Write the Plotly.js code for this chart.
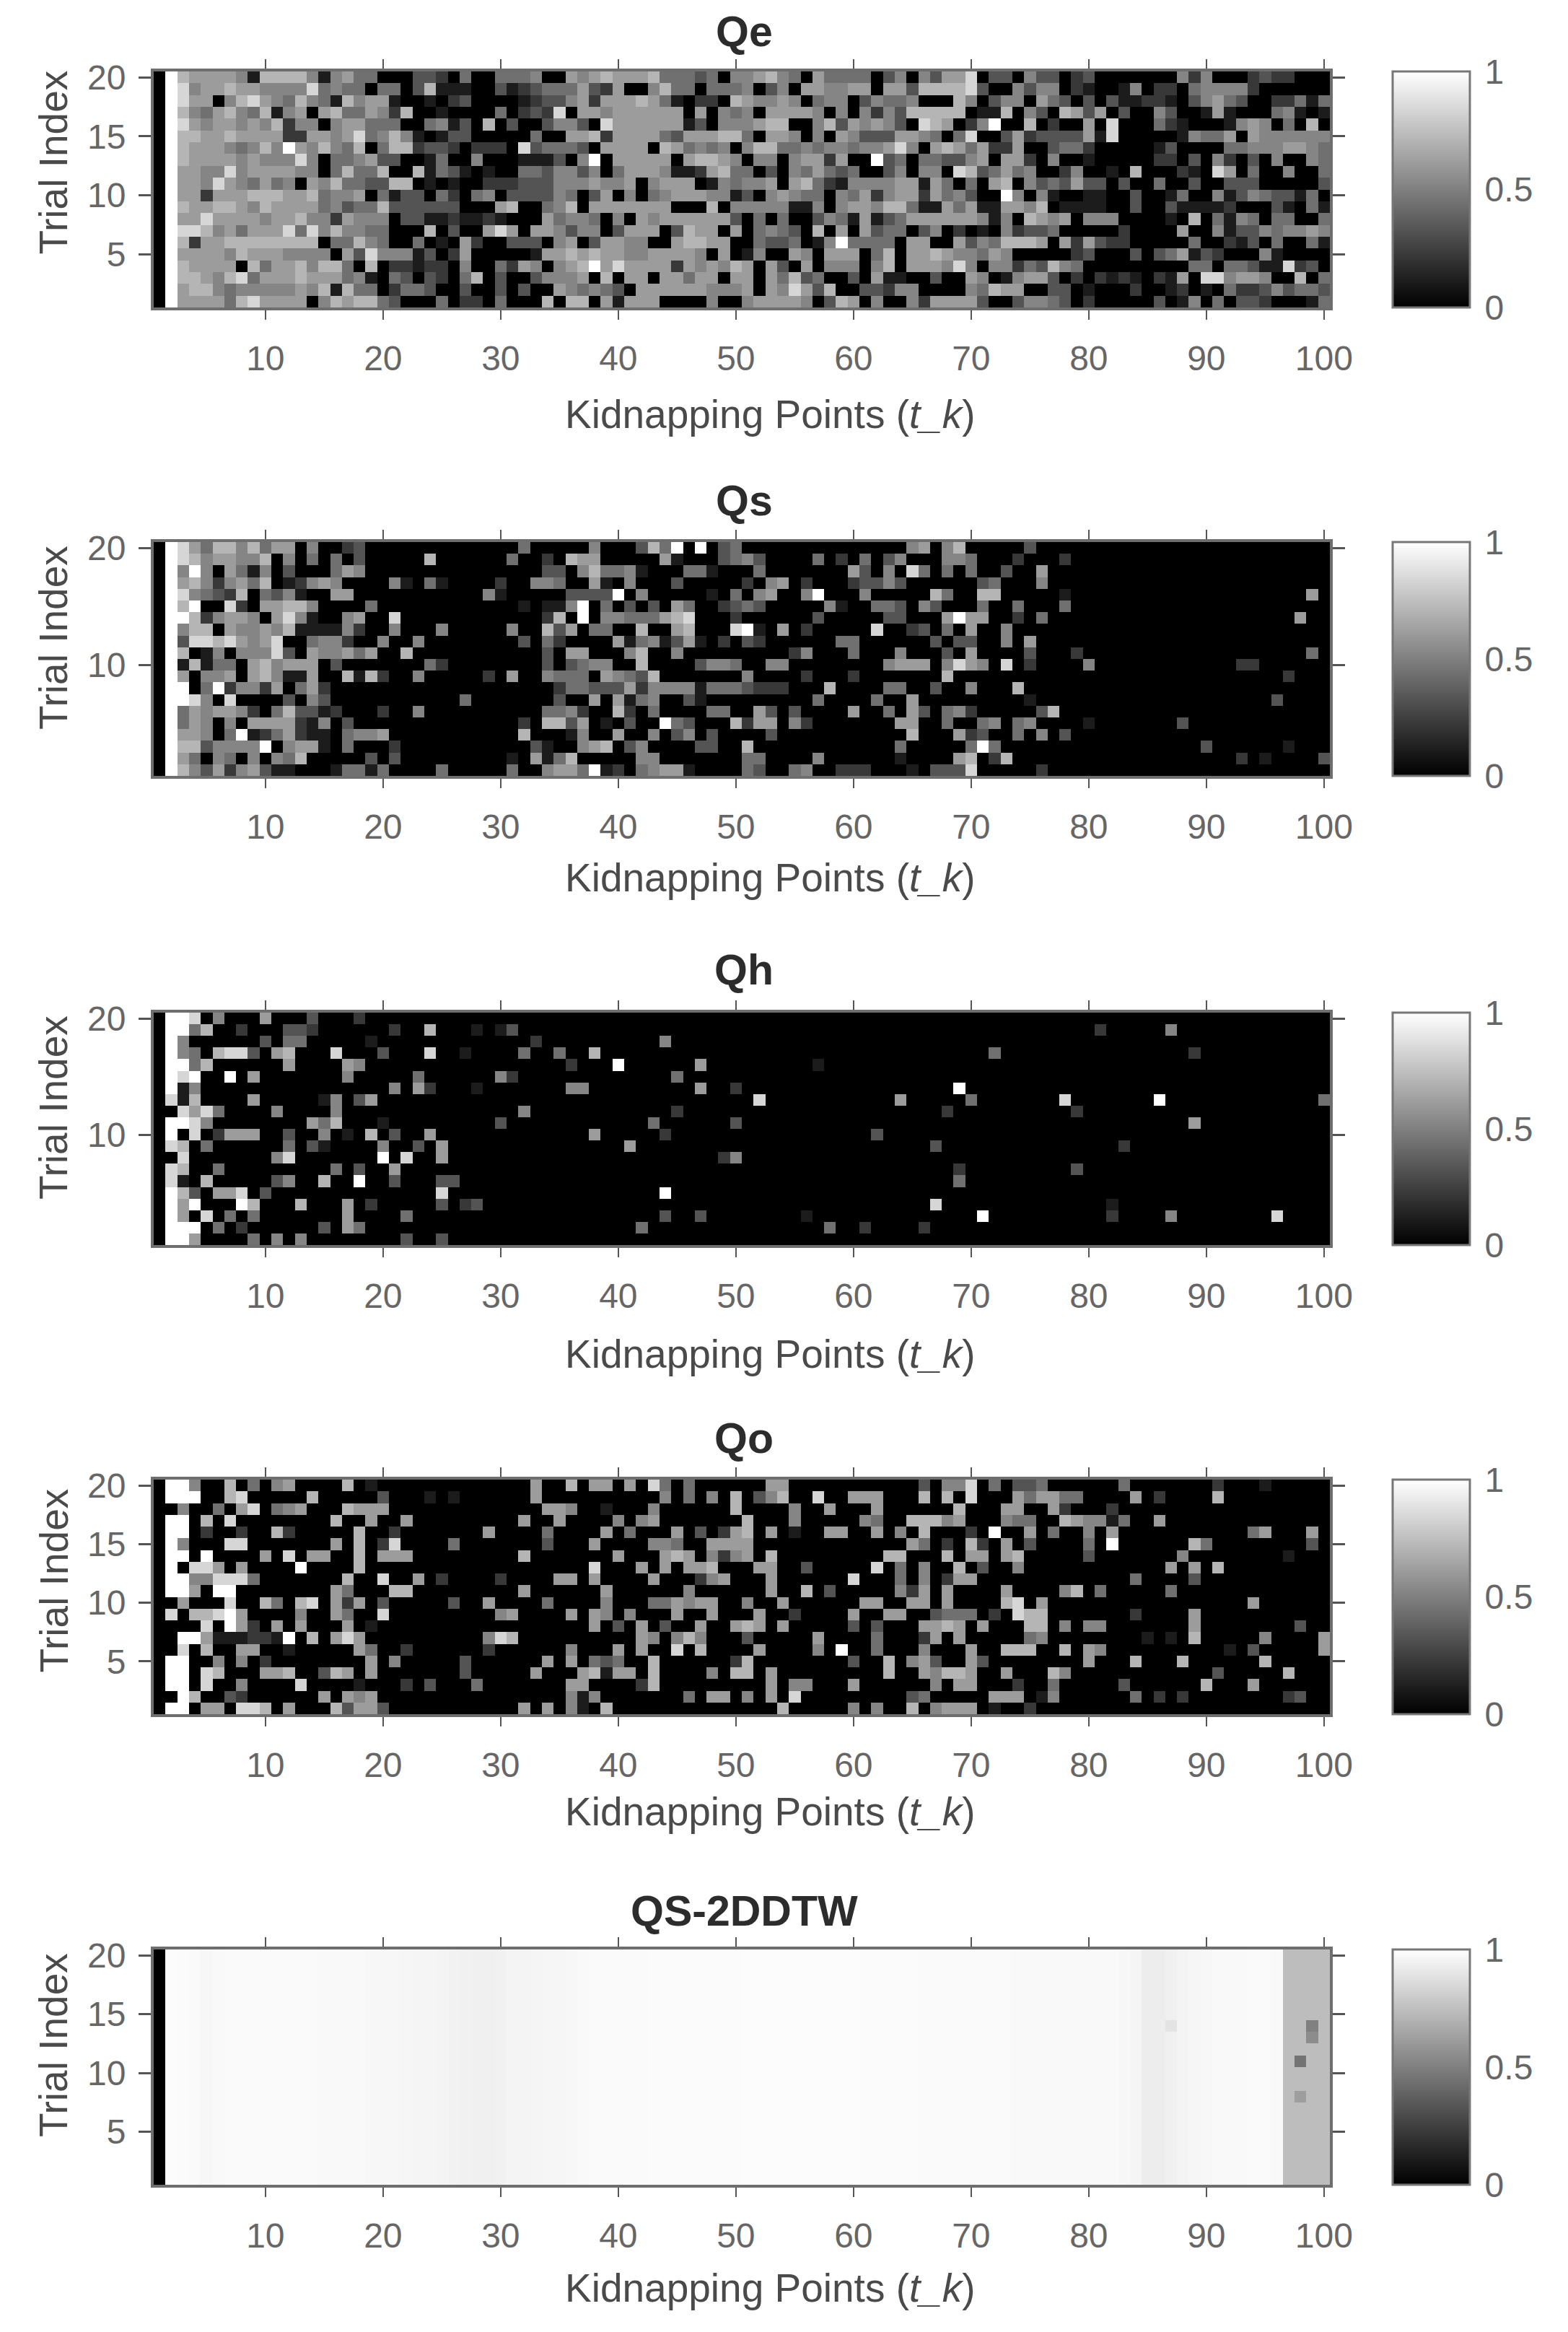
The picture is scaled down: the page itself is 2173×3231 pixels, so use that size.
<!DOCTYPE html>
<html><head><meta charset="utf-8">
<script src="https://cdn.plot.ly/plotly-3.0.1.min.js"></script>
<style>html,body{margin:0;padding:0;background:#fff}</style>
</head><body><div id="chart" style="width:2173px;height:3231px"></div>
<script>
// Grey levels: digit 0 (black) .. 9 (white), one string per trial,
// first string = trial 20, last = trial 1. "-" stands for ten black cells.
const Qe_rows = [
"0976666517 7775156440 0033204004 4450065676 6674443405 5675406444 4035053668 0330533023 0000000525 0002322000",
"0985667665 5558454404 4037111003 1234446326 0057440444 5035066556 6066377778 3005355021 0015022045 5552000000",
"0986605786 5475417566 1001023000 0123356266 6764102207 6556504550 3544500075 0355064303 0311221035 6430022414",
"0975467547 1560674465 2700100004 0232806656 6666606054 5066665050 5253777770 1170530763 6030053001 6100045101",
"0986566565 7255056644 4004513070 3003553086 6666613055 5677005736 5653087602 5900702006 0800042100 0156504070",
"0977667666 6226656845 7510133000 0040066726 6664366677 4066505065 3336654048 0036233336 1800000154 4606555555",
"0976665457 5965754704 7723320222 0834443066 6607645450 5774454554 5568506764 6226003442 0000013000 0445556654",
"0976666565 5585044563 3001400500 0111305906 6666067765 0550566260 0934044335 6066205001 0000022030 5203050054",
"0966558566 6655047447 0071431010 0443553504 6665112674 4030546434 0035055087 3464500250 0107000210 8604005004",
"0966586546 4506574433 7701010022 2333555655 6056660154 5560674215 5556616404 0670534363 3030040030 0333000003",
"0966266677 7667455604 1330420450 3333540360 5045666551 3056544054 6256626453 0095051001 1003001400 5135433140",
"0976677657 6666453447 3333330006 7004570666 6666000705 5555115056 6577411646 1166570111 1003003111 1200031041",
"0966866665 6675526555 0331121121 0006455405 0656666663 0404003541 6134666666 5150765605 5500001070 4154044004",
"0988756466 6848575544 0007030068 6066535503 6660376606 0454307060 6344035020 1052334000 0020000600 5133545565",
"0972667777 7777044754 0040106200 3330560366 5500677660 0433401594 4440660063 5477760626 3220000040 0213040041",
"0966665766 6555506385 5513026000 0016676766 5566665060 1500650666 0470667655 4650000023 0003034613 2000510000",
"0976666074 6675774070 2212205004 2650567968 6666265657 6063060555 0570666585 0552437540 0000000044 0443118230",
"0977657846 6676664510 4303204703 0035556070 6606646606 6064734003 0611003006 5015663020 2121021608 8566500704",
"0967754555 5565717440 2443003003 0300654543 0666666555 6065863700 3325500005 4766003301 0002001201 0422353443",
"0966664786 6660576774 3000402204 0007077061 6660000500 5666650376 0500526666 3003554302 0000030150 4033200014"
];
const Qs_rows = [
"0986477574 6605002300 - 0400000500 0374909034 - 0000560570 0000300000 - -",
"0987566557 0504040300 0007000000 4002076600 0006100034 5300004020 4035000554 0002000200 - -",
"0959506415 0300046500 - 0003305744 5100044100 0400000006 3050840404 0030060000 - -",
"0967525647 0125650000 5104100002 0055400610 5000300000 2056020002 3353000000 3400050000 - -",
"0985432704 3510066000 0000000051 0000033339 0500000104 0560059000 5000007400 7700000100 - 0000000060",
"0979008206 6775000040 - 0101159040 3030640023 4300000510 0443053000 4004000400 - -",
"0997256650 6851005600 8000000000 0002709055 4446780002 0000003000 0033000696 6002040000 - 0000000600",
"0957706556 5711115200 5000500000 5007360440 0700670008 9106020000 0800230406 0050000000 - -",
"0938878656 8004552005 0050000000 0304200006 1451361020 3200000044 0000003033 0050600000 - -",
"0970150555 8306556460 0700000000 0003066000 5700500000 0000250004 0005000306 0000300020 - 0000000040",
"0917144067 5666030000 0004200000 0003034550 0700003554 0055000000 0056660586 5080200005 - 0022000000",
"0960556067 5116007172 0050000020 6005444065 4370000000 5000020002 0000000700 - - 0000002000",
"0990492552 6046200000 - 0000244333 6255551444 3222000700 0044003005 0007000000 - -",
"0998508000 0305300000 0000004000 0000300606 1450031000 0000004000 0400600000 0000100000 - 0000030000",
"0946566520 4733120002 0050000000 0004452007 2040000440 0630300006 0040630452 0000037000 - -",
"0946505066 6621503000 - 0207736010 3009430007 2660520000 0006600400 4504500001 0000000300 -",
"0966504912 4621104556 - 0700015006 0050350300 0030000000 0000700062 3004050300 - -",
"0977355559 0566104000 2000000000 0031005670 3500003300 7000000000 0004000004 9400000000 0000000003 0000001000",
"0964054050 5470000030 3000000000 1061470000 0550000000 4400005000 0001000067 0270000000 - 0020100003",
"0975362563 1100014414 0000400000 4005664912 0456610000 4300450022 2000103338 0000020000 - -"
];
const Qh_rows = [
"0998050006 0003000200 - - - - - - - -",
"0994700200 0332000000 2007000101 3000000000 - - - - 2000005000 -",
"0950000003 0440000010 - 0020000000 0005000000 - - - - -",
"0954078830 6700080003 0008001000 0400400700 - - - 0400000000 0000000020 -",
"0994700000 0600006500 - 0000020009 0000006000 0000001000 - - - -",
"0989009060 0000005000 0040000005 2000000000 0000400000 - - - - -",
"0915000000 - 5062000100 0000055000 0000006002 - 0000000090 - - -",
"0817000060 0000150360 - - - 0800000000 0006000004 0000000800 0000090000 0000000004",
"0086840000 5000050000 - 0500000000 0000200000 - 0000000200 0000000020 - -",
"0998500000 0006470001 0000000003 - 0040000003 - - - 0000000060 -",
"0908026660 0300501070 3006000000 0000000600 0002000000 - 0300000000 - - -",
"0870400000 0403100005 0030600000 - 6000000000 - 0000003000 - 0020000000 -",
"0080000000 5800000009 0800600000 - 0000000025 - - - - -",
"0870040000 0000040300 6000000000 - - - 0000000020 0000000030 - -",
"0810700000 3500700900 3000330000 - - - 0000000040 - - -",
"0973066803 - 0000800000 - 0009000000 - - - - -",
"0969000970 0070006020 0000302300 - - - 0000008000 - 0100000000 -",
"0960804040 0000006000 0400000000 - 0003003000 0000010000 - 9000000000 0200005000 0000080000",
"0999040200 0000306400 - - 0400000000 0000000400 2000020000 - - -",
"0996000040 5050000000 0300300000 - - - - - - -"
];
const Qo_rows = [
"0995007040 5600007010 - 0060070660 6084040000 0066000000 0000030558 0403340000 0040000000 2000100000",
"0999007800 0007000003 0001010000 0060000000 0005040507 0357008006 6600070708 0006466440 0006020000 7000000000",
"0050040680 4560007666 - 0006650010 0050000007 0000500600 0600000070 0066006200 0200000000 -",
"0990708000 0000070060 0600000000 0600600005 0560000000 7000500000 5400777560 0054400765 5140060000 -",
"0990200200 7200000700 2000000060 0004000060 4000603026 7060100660 0605070002 0900604005 0600000000 0004600060",
"0950008800 0000060702 8000040000 0003000600 0055400666 6000000000 0000640207 2060300004 0900000074 0000000030",
"0990900006 0806600706 6600000000 0700000006 0006760525 6070000000 0077000706 6067000003 0000000500 0000001000",
"0908860600 0090000700 - 0000000800 0606066700 0660030000 0804050070 3005000000 0000006060 7000000000",
"0995588840 0000007008 0060200002 0000660600 0060002560 0060000008 0004050266 - 0004000030 -",
"0996099000 0000064000 7700000000 0600000060 0000050000 0060070300 0005260600 0060000570 4000004000 -",
"0060008007 4078062603 0000030060 0004000050 0044656600 5006000000 6600660600 0078060000 - 0006000000",
"0807789600 0050064008 0000000005 6000060650 5000600600 0600200006 0066003444 0208770000 0002000060 -",
"0000809620 6060006010 - 0000000603 0603006006 7606000003 0300066760 6000770505 5000000060 0000000300",
"0099611122 1907068600 0000000058 7000000000 0650575000 3000006000 0400026060 0000450000 0000101070 0000500006",
"0080700660 0100000640 0200000020 0000050006 0600807000 0600005090 0400050006 0077700706 5000000000 0103000006",
"0990050502 0000000060 5000003000 0006060434 0070000002 7000000003 0070563006 3000000006 0007000700 0000700000",
"0990870006 6700376060 0000003000 0060006716 6070000507 7060000000 0070065776 0060007500 - 3000007000",
"0990800500 0080000100 0203000400 0000066000 0270000000 0060550006 0000005066 0002004000 0030000007 0006000000",
"0097003200 0000606560 - 0000051500 0000040660 5060800000 0000340000 0666015000 0004020200 0000002300",
"0990660887 0600073663 - 0606051070 - 0007000005 0500705666 0100200000 - -"
];
// value of each grey digit
const greyLevels = [0,.11,.22,.33,.44,.52,.61,.71,.84,1];
// QS-2DDTW: value of each kidnapping point, read as one profile across trials
const QS_profile = [
0,.99,.985,.98,.97,.975,.98,.98,.98,.98,
.98,.98,.98,.98,.975,.975,.975,.975,.97,.97,
.97,.965,.96,.96,.955,.95,.945,.94,.94,.945,
.955,.955,.96,.965,.965,.97,.975,.98,.98,.98,
.98,.98,.985,.985,.985,.985,.985,.985,.985,.985,
.99,.99,.99,.99,.99,.99,.99,.99,.99,.99,
.985,.985,.985,.985,.985,.98,.98,.98,.98,.98,
.98,.98,.98,.975,.975,.975,.975,.975,.975,.975,
.975,.975,.97,.96,.93,.93,.94,.955,.965,.97,
.975,.975,.975,.98,.98,.975,.74,.74,.74,.74];
// isolated darker cells: [trial, point, value]
const QS_cells = [[14,99,.5],[13,99,.55],[11,98,.45],[8,98,.62],[14,87,.89]];

const panelNames = ['Qe','Qs','Qh','Qo','QS-2DDTW'];
const xTicks = [10,20,30,40,50,60,70,80,90,100];
const yTicks = [[5,10,15,20],[10,20],[10,20],[5,10,15,20],[5,10,15,20]];
const cbTicks = [0,0.5,1];
const cbLabels = ['0','0.5','1'];
const points = Array.from({length:100},(_,i)=>i+1);
const trials = Array.from({length:20},(_,i)=>i+1);

function decode(rows){
  return rows.slice().reverse().map(r =>
    r.replace(/-/g,'0000000000').replace(/\s/g,'').split('').map(d => greyLevels[+d]));
}
const QS_z = trials.map(t => {
  const row = QS_profile.slice();
  QS_cells.forEach(c => { if (c[0]===t) row[c[1]-1]=c[2]; });
  return row;
});
const matrices = [decode(Qe_rows),decode(Qs_rows),decode(Qh_rows),decode(Qo_rows),QS_z];

// page geometry (px)
const W=2173,H=3231,L=213,R=1843,CBX=1930,CBW=107;
const tops=[99,751,1403,2050,2701];
const heights=[327,324,322,325,326];
const titleY=[44,694,1344,1993,2648];
const xTitleY=[574,1216,1876,2510,3170];
const yTitleDy=[-37,-29,-29,-22,-30];
const fx=p=>p/W, fy=p=>1-p/H;
const FONT='"Liberation Sans", Arial, sans-serif';
const tickFont={family:FONT,size:48,color:'#666666'};

const data=[],layout={width:W,height:H,margin:{l:0,r:0,t:0,b:0,autoexpand:false},
  paper_bgcolor:'#fff',plot_bgcolor:'#fff',showlegend:false,annotations:[],font:{family:FONT}};

panelNames.forEach((name,i)=>{
  const n=i===0?'':String(i+1);
  data.push({type:'heatmap',x:points,y:trials,z:matrices[i],xaxis:'x'+n,yaxis:'y'+n,
    coloraxis:'coloraxis'+n,zsmooth:false,name:name});
  const top=tops[i],PH=heights[i];
  layout['xaxis'+n]={domain:[fx(L),fx(R)],anchor:'y'+n,range:[0.5,100.5],tickmode:'array',tickvals:xTicks,
    ticktext:xTicks.map(String),ticks:'outside',ticklen:13,tickwidth:2,tickcolor:'#555',mirror:'allticks',
    showline:true,linecolor:'#6e6e6e',linewidth:4,showgrid:false,zeroline:false,tickfont:tickFont,
    ticklabelstandoff:12};
  layout['yaxis'+n]={domain:[fy(top+PH),fy(top)],anchor:'x'+n,range:[0.5,20.5],tickmode:'array',tickvals:yTicks[i],
    ticktext:yTicks[i].map(String),ticks:'outside',ticklen:17,tickwidth:3,tickcolor:'#555',mirror:'allticks',
    showline:true,linecolor:'#6e6e6e',linewidth:4,showgrid:false,zeroline:false,tickfont:tickFont,
    ticklabelstandoff:8};
  layout['coloraxis'+n]={cmin:0,cmax:1,colorscale:[[0,'#000000'],[1,'#ffffff']],
    colorbar:{x:fx(CBX),xanchor:'left',y:fy(top+PH/2),yanchor:'middle',lenmode:'pixels',len:PH,
      thicknessmode:'pixels',thickness:CBW,xpad:0,ypad:0,tickmode:'array',tickvals:cbTicks,ticktext:cbLabels,
      ticks:'outside',ticklen:10,tickcolor:'rgba(0,0,0,0)',outlinecolor:'#777',outlinewidth:3,tickfont:tickFont}};
  layout.annotations.push({xref:'paper',yref:'paper',x:fx((L+R)/2+3),y:fy(titleY[i]),xanchor:'center',yanchor:'middle',
    showarrow:false,text:'<b>'+name+'</b>',font:{family:FONT,size:59,color:'#2c2c2c'}});
  layout.annotations.push({xref:'paper',yref:'paper',x:fx(1067),y:fy(xTitleY[i]),xanchor:'center',yanchor:'middle',
    showarrow:false,text:'Kidnapping Points (<i>t_k</i>)',font:{family:FONT,size:55,color:'#4a4a4a'}});
  layout.annotations.push({xref:'paper',yref:'paper',x:fx(74),y:fy(top+PH/2+yTitleDy[i]),xanchor:'center',yanchor:'middle',
    textangle:-90,showarrow:false,text:'Trial Index',font:{family:FONT,size:55,color:'#4a4a4a'}});
});
Plotly.newPlot('chart',data,layout,{staticPlot:true,displayModeBar:false});
</script></body></html>
